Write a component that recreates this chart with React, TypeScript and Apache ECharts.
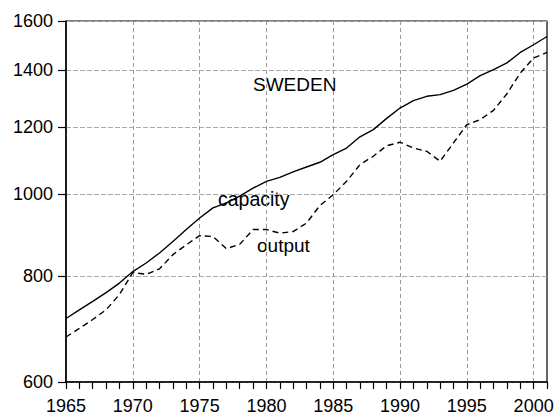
import React, { useEffect, useRef } from 'react';
import * as echarts from 'echarts';

const years = ['1965','1966','1967','1968','1969','1970','1971','1972','1973','1974','1975','1976','1977','1978','1979','1980','1981','1982','1983','1984','1985','1986','1987','1988','1989','1990','1991','1992','1993','1994','1995','1996','1997','1998','1999','2000','2001'];
const capacity = [713,730,747,765,785,810,829,852,879,908,937,963,976,994,1016,1035,1046,1062,1076,1090,1113,1133,1168,1191,1228,1263,1289,1304,1310,1325,1348,1379,1402,1428,1469,1500,1534];
const output = [678,694,711,730,761,808,804,816,848,871,893,891,862,872,908,908,899,903,924,969,998,1035,1083,1108,1140,1151,1133,1123,1093,1149,1207,1224,1255,1313,1389,1447,1469];
const yTicks = [600, 800, 1000, 1200, 1400, 1600];
const yMin = 600;
const yMax = 1600;

const FONT = '"Liberation Sans", Arial, sans-serif';

export default function App() {
  const ref = useRef<HTMLDivElement>(null);
  useEffect(() => {
    if (!ref.current) return;
    const chart = echarts.init(ref.current, undefined, { renderer: 'svg' });
    const lg = (v: number) => Math.log10(v);
    chart.setOption({
      animation: false,
      backgroundColor: '#fff',
      grid: {
        left: 66, right: 10, top: 21, bottom: 36,
        show: true, borderColor: '#000', borderWidth: 1.2, backgroundColor: 'transparent',
      },
      xAxis: {
        type: 'category',
        data: years,
        boundaryGap: false,
        axisLine: { lineStyle: { color: '#000', width: 1.5 } },
        axisTick: { show: true, inside: false, interval: 0, length: 7, lineStyle: { color: '#000', width: 1.2 } },
        axisLabel: { interval: 4, margin: 15, color: '#000', fontSize: 18, fontFamily: FONT },
        splitLine: { show: true, interval: 4, lineStyle: { color: '#999', width: 1, type: [4, 3] } },
      },
      yAxis: {
        type: 'value',
        min: lg(yMin),
        max: lg(yMax),
        axisLine: { show: true, lineStyle: { color: '#000', width: 1.5 } },
        axisTick: { show: true, inside: false, length: 8, customValues: yTicks.map(lg), lineStyle: { color: '#000', width: 1.2 } },
        axisLabel: {
          customValues: yTicks.map(lg),
          margin: 13,
          color: '#000',
          fontSize: 18,
          fontFamily: FONT,
          padding: [0, 0, 8, 0],
          formatter: (v: number) => String(Math.round(Math.pow(10, v))),
        },
        splitLine: { show: true, lineStyle: { color: '#aaa', width: 1.2, type: [5, 2] } },
      },
      series: [
        {
          name: 'capacity',
          type: 'line',
          data: capacity.map(lg),
          showSymbol: false,
          symbol: 'none',
          lineStyle: { color: '#000', width: 1.4, type: 'solid' },
        },
        {
          name: 'output',
          type: 'line',
          data: output.map(lg),
          showSymbol: false,
          symbol: 'none',
          lineStyle: { color: '#000', width: 1.4, type: [6, 4] },
        },
      ],
      graphic: [
        { type: 'text', x: 253, y: 84, style: { text: 'SWEDEN', fontSize: 19, fontFamily: FONT, fill: '#000', verticalAlign: 'middle' } },
        { type: 'text', x: 218, y: 199, style: { text: 'capacity', fontSize: 19.5, fontFamily: FONT, fill: '#000', verticalAlign: 'middle' } },
        { type: 'text', x: 257, y: 245, style: { text: 'output', fontSize: 19, fontFamily: FONT, fill: '#000', verticalAlign: 'middle' } },
      ],
    });
    return () => chart.dispose();
  }, []);
  return <div ref={ref} style={{ position: 'fixed', left: 0, top: 0, width: 557, height: 418 }} />;
}
